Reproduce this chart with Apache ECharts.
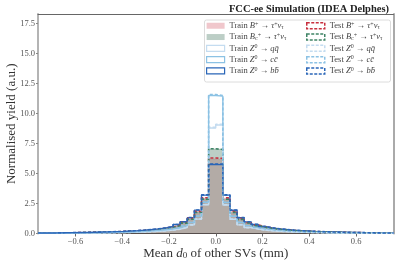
<!DOCTYPE html>
<html><head><meta charset="utf-8">
<script src="https://cdn.jsdelivr.net/npm/echarts@6/dist/echarts.min.js"></script>
<style>html,body{margin:0;padding:0;background:#fff}#c{width:399px;height:266px}</style>
</head><body><div id="c"></div>
<script>
// ---------------- data ----------------
const binLo = -0.76, binHi = 0.76, nBins = 50;
const xTicks = [-0.6, -0.4, -0.2, 0.0, 0.2, 0.4, 0.6];
const yTicks = [0, 2.5, 5, 7.5, 10, 12.5, 15, 17.5];

const trainBp = [0.035,0.041,0.047,0.054,0.066,0.074,0.086,0.094,0.11,0.126,0.146,0.163,0.19,0.22,0.26,0.3,0.36,0.44,0.56,0.7,0.93,1.26,1.86,2.96,
  6.22,6.2,
  2.94,1.84,1.24,0.91,0.7,0.54,0.44,0.36,0.3,0.25,0.22,0.19,0.166,0.144,0.125,0.11,0.096,0.084,0.076,0.064,0.056,0.049,0.041,0.037];
const testBp = [0.037,0.04,0.048,0.055,0.064,0.076,0.085,0.096,0.108,0.128,0.144,0.166,0.188,0.222,0.258,0.302,0.358,0.446,0.55,0.71,0.92,1.27,1.85,2.98,
  6.3,6.26,
  2.97,1.86,1.26,0.92,0.71,0.55,0.45,0.36,0.31,0.26,0.22,0.19,0.164,0.146,0.126,0.11,0.094,0.086,0.074,0.066,0.054,0.048,0.043,0.035];
const trainBc = [0.032,0.038,0.045,0.05,0.059,0.066,0.078,0.087,0.101,0.114,0.131,0.151,0.174,0.2,0.24,0.28,0.34,0.41,0.51,0.65,0.86,1.18,1.76,2.86,
  7.04,7.02,
  2.84,1.74,1.17,0.86,0.65,0.51,0.41,0.34,0.28,0.24,0.2,0.176,0.15,0.13,0.114,0.1,0.088,0.076,0.068,0.058,0.05,0.044,0.038,0.033];
const testBc = [0.034,0.037,0.044,0.051,0.057,0.068,0.076,0.089,0.099,0.116,0.129,0.152,0.172,0.202,0.238,0.282,0.338,0.412,0.508,0.652,0.862,1.19,1.75,2.87,
  7.06,7.0,
  2.86,1.76,1.18,0.87,0.66,0.52,0.41,0.35,0.28,0.24,0.2,0.174,0.152,0.128,0.116,0.1,0.087,0.078,0.066,0.059,0.049,0.045,0.037,0.034];
const trainQQ = [0.018,0.021,0.024,0.027,0.031,0.036,0.041,0.047,0.054,0.062,0.071,0.082,0.095,0.11,0.13,0.16,0.19,0.23,0.29,0.37,0.5,0.72,1.2,2.4,
  8.8,9.05,
  2.38,1.19,0.72,0.5,0.37,0.29,0.23,0.19,0.16,0.13,0.11,0.095,0.082,0.071,0.062,0.054,0.047,0.041,0.036,0.031,0.027,0.024,0.021,0.018];
const testQQ = [0.019,0.02,0.025,0.026,0.032,0.035,0.042,0.046,0.055,0.061,0.072,0.081,0.096,0.109,0.131,0.158,0.192,0.228,0.292,0.368,0.505,0.715,1.21,2.42,
  8.85,9.1,
  2.4,1.2,0.73,0.49,0.375,0.288,0.232,0.188,0.161,0.129,0.111,0.094,0.083,0.07,0.063,0.053,0.048,0.04,0.037,0.03,0.028,0.023,0.022,0.017];
const trainCC = [0.025,0.029,0.033,0.038,0.044,0.05,0.057,0.065,0.075,0.085,0.1,0.115,0.13,0.155,0.18,0.22,0.26,0.31,0.39,0.5,0.66,0.92,1.45,2.6,
  11.5,11.45,
  2.58,1.44,0.92,0.66,0.5,0.39,0.31,0.26,0.22,0.18,0.155,0.13,0.115,0.1,0.085,0.075,0.065,0.057,0.05,0.044,0.038,0.033,0.029,0.025];
const testCC = [0.026,0.028,0.034,0.037,0.045,0.049,0.058,0.064,0.076,0.084,0.101,0.114,0.131,0.154,0.182,0.218,0.262,0.308,0.392,0.498,0.665,0.925,1.46,2.62,
  11.58,11.5,
  2.6,1.46,0.93,0.67,0.5,0.392,0.312,0.258,0.222,0.178,0.156,0.129,0.116,0.099,0.086,0.074,0.066,0.056,0.051,0.043,0.039,0.032,0.03,0.024];
const trainBB = [0.04,0.045,0.05,0.06,0.07,0.08,0.09,0.105,0.12,0.135,0.155,0.18,0.21,0.24,0.28,0.33,0.39,0.47,0.58,0.75,0.98,1.32,1.95,3.2,
  5.75,5.74,
  3.2,1.94,1.31,0.97,0.75,0.58,0.47,0.39,0.33,0.28,0.24,0.21,0.18,0.155,0.135,0.12,0.105,0.09,0.08,0.07,0.06,0.05,0.045,0.04];
const testBB = [0.041,0.044,0.051,0.059,0.071,0.079,0.091,0.104,0.121,0.134,0.156,0.179,0.211,0.238,0.282,0.328,0.392,0.468,0.585,0.752,0.985,1.33,1.96,3.22,
  5.8,5.78,
  3.22,1.95,1.32,0.98,0.76,0.585,0.472,0.388,0.332,0.278,0.242,0.208,0.182,0.154,0.136,0.119,0.106,0.089,0.081,0.069,0.061,0.049,0.046,0.039];

const seriesKeys = ['trainBp','trainBc','trainQQ','trainCC','trainBB','testBp','testBc','testQQ','testCC','testBB'];
const seriesValues = [trainBp,trainBc,trainQQ,trainCC,trainBB,testBp,testBc,testQQ,testCC,testBB];
const seriesLabels = [
  'Train {i|B}{sup|+} → {i|τ}{sup|+}{i|ν}{sub|τ}',
  'Train {i|B}{sub|c}{sup|+} → {i|τ}{sup|+}{i|ν}{sub|τ}',
  'Train {i|Z}{sup|0} → {i|qq̄}',
  'Train {i|Z}{sup|0} → {i|cc̄}',
  'Train {i|Z}{sup|0} → {i|bb̄}',
  'Test {i|B}{sup|+} → {i|τ}{sup|+}{i|ν}{sub|τ}',
  'Test {i|B}{sub|c}{sup|+} → {i|τ}{sup|+}{i|ν}{sub|τ}',
  'Test {i|Z}{sup|0} → {i|qq̄}',
  'Test {i|Z}{sup|0} → {i|cc̄}',
  'Test {i|Z}{sup|0} → {i|bb̄}'
];

// ---------------- style ----------------
const FONT = 'Liberation Serif';
const cRed = '#c8303f', cGreen = '#3f8466', cQQ = '#c4dcf0', cCC = '#8cc2e4', cBB = '#2a66b8';
const fillRed = 'rgba(205,70,85,0.3)', fillGreen = 'rgba(80,125,105,0.38)';
const styles = [
  {fill: fillRed, line: 'rgba(205,70,85,0.3)', w: 0.8, dash: 'solid'},
  {fill: fillGreen, line: 'rgba(80,125,105,0.38)', w: 0.8, dash: 'solid'},
  {line: cQQ, w: 1.4, dash: 'solid'},
  {line: cCC, w: 1.4, dash: 'solid'},
  {line: cBB, w: 1.4, dash: 'solid'},
  {line: cRed, w: 1.6, dash: [3, 2]},
  {line: cGreen, w: 1.6, dash: [3, 2]},
  {line: cQQ, w: 1.6, dash: [3, 2]},
  {line: cCC, w: 1.6, dash: [3, 2]},
  {line: cBB, w: 1.6, dash: [3, 2]}
];

const edges = [];
for (let k = 0; k <= nBins; k++) edges.push(binLo + k * (binHi - binLo) / nBins);
function stepData(vals) {
  const d = vals.map((v, i) => [edges[i], v]);
  d.push([edges[nBins], vals[nBins - 1]]);
  return d;
}

const series = seriesValues.map((vals, i) => {
  const s = styles[i];
  const o = {
    name: seriesKeys[i], type: 'line', step: 'end', symbol: 'none', silent: true,
    animation: false, data: stepData(vals),
    lineStyle: {color: s.line, width: s.w, type: s.dash},
    itemStyle: {color: s.line},
    z: 2 + i * 0.01
  };
  if (s.fill) o.areaStyle = {color: s.fill, opacity: 1};
  return o;
});

const labelMap = {};
seriesKeys.forEach((k, i) => labelMap[k] = seriesLabels[i]);

function legendItem(i) {
  const s = styles[i];
  if (s.fill) return {name: seriesKeys[i], icon: 'rect', itemStyle: {color: s.fill, borderWidth: 0}};
  return {name: seriesKeys[i], icon: 'rect', itemStyle: {color: 'rgba(255,255,255,0)', borderColor: s.line, borderWidth: i < 5 ? 1.2 : 1.5, borderType: i < 5 ? 'solid' : [3, 1.5]}};
}
const rich = {
  i: {fontFamily: FONT, fontStyle: 'italic', fontSize: 8.5, color: '#444'},
  sup: {fontFamily: FONT, fontSize: 6, verticalAlign: 'top', color: '#444'},
  sub: {fontFamily: FONT, fontSize: 6, verticalAlign: 'bottom', color: '#444'}
};
function mkLegend(left, idxs) {
  return {
    orient: 'vertical', left: left, top: 21, itemWidth: 18, itemHeight: 6, itemGap: 1.8,
    selectedMode: false, padding: 0, z: 10,
    textStyle: {fontFamily: FONT, fontSize: 8.5, color: '#444', rich: rich, lineHeight: 9.5},
    formatter: name => labelMap[name],
    data: idxs.map(legendItem)
  };
}

const chart = echarts.init(document.getElementById('c'), null, {renderer: 'canvas'});
chart.setOption({
  animation: false,
  backgroundColor: '#fff',
  title: {text: 'FCC-ee Simulation (IDEA Delphes)', right: 5, top: -1,
    textStyle: {fontFamily: FONT, fontWeight: 'bold', fontSize: 10.5, color: '#222'}},
  grid: {left: 38, right: 5.5, top: 14, bottom: 32.5, outerBoundsMode: 'none', containLabel: false},
  xAxis: [{
    type: 'value', min: binLo, max: binHi, position: 'bottom',
    axisLine: {onZero: false, lineStyle: {color: '#444', width: 1}},
    axisTick: {show: true, length: 3, lineStyle: {color: '#666'}, customValues: xTicks},
    axisLabel: {customValues: xTicks, fontFamily: FONT, fontSize: 8.5, color: '#555', margin: 4,
      formatter: v => (v < 0 ? '−' : '') + Math.abs(v).toFixed(1)},
    splitLine: {show: false},
    name: 'Mean {i|d}{sub|0} of other SVs (mm)', nameLocation: 'middle', nameGap: 14, nameMoveOverlap: false,
    nameTextStyle: {fontFamily: FONT, fontSize: 13, color: '#333', verticalAlign: 'top',
      rich: {i: {fontFamily: FONT, fontStyle: 'italic', fontSize: 13, color: '#333'},
             sub: {fontFamily: FONT, fontSize: 9, verticalAlign: 'bottom', color: '#333'}}}
  }, {
    type: 'value', min: binLo, max: binHi, position: 'top',
    axisLine: {show: true, onZero: false, lineStyle: {color: '#666', width: 1}},
    axisTick: {show: false}, axisLabel: {show: false}, splitLine: {show: false}
  }],
  yAxis: [{
    type: 'value', min: 0, max: 18.3, position: 'left',
    axisLine: {show: true, onZero: false, lineStyle: {color: '#b4b4b4', width: 2}},
    axisTick: {show: true, length: 2, lineStyle: {color: '#888'}, customValues: yTicks},
    axisLabel: {customValues: yTicks, fontFamily: FONT, fontSize: 8.5, color: '#555', margin: 3,
      formatter: v => v.toFixed(1)},
    splitLine: {show: false},
    name: 'Normalised yield (a.u.)', nameLocation: 'middle', nameGap: 20, nameRotate: 90, nameMoveOverlap: false,
    nameTextStyle: {fontFamily: FONT, fontSize: 13, color: '#333'}
  }, {
    type: 'value', min: 0, max: 18.3, position: 'right',
    axisLine: {show: true, onZero: false, lineStyle: {color: '#aaa', width: 2}},
    axisTick: {show: false}, axisLabel: {show: false}, splitLine: {show: false}
  }],
  legend: [mkLegend(206, [0,1,2,3,4]), mkLegend(306, [5,6,7,8,9])],
  graphic: [{
    type: 'rect', left: 204, top: 19.5, z: 5,
    shape: {width: 186, height: 62, r: 2},
    style: {fill: 'rgba(255,255,255,0.85)', stroke: '#dcdcdc', lineWidth: 1}
  }],
  series: series
});
</script></body></html>
